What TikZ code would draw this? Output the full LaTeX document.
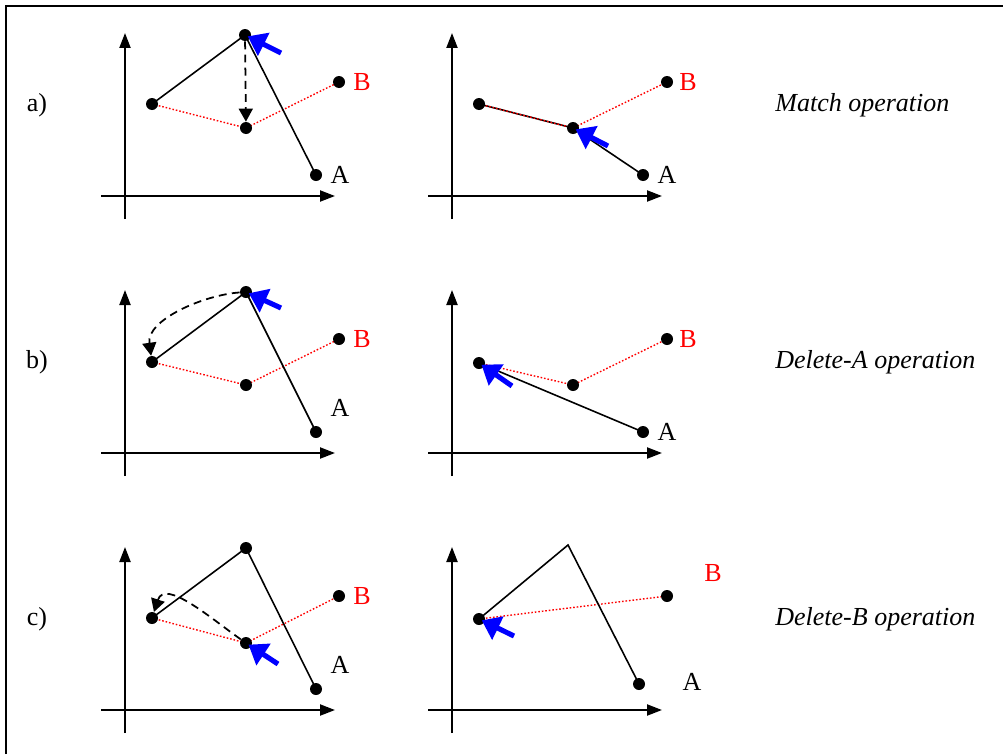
\documentclass[tikz,border=0pt]{standalone}
\usepackage{fontspec}
\setmainfont{Liberation Serif}
\usetikzlibrary{arrows.meta}
\pgfdeclarelayer{bg}
\pgfsetlayers{bg,main}
\begin{document}
\begin{tikzpicture}[x=0.02cm,y=-0.02cm,
 dot/.style={circle,fill=black,inner sep=0pt,minimum size=0.24cm},
 axis/.style={line width=1.2pt,-{Triangle[length=0.3cm,width=0.22cm]}},
 solidline/.style={line width=0.9pt},
 redline/.style={red,line width=0.8pt,dash pattern=on 0.9pt off 1.1pt},
 dasharrow/.style={line width=1pt,dash pattern=on 4.5pt off 3pt,-{Triangle[length=0.26cm,width=0.28cm]}},
 bluearrow/.style={blue,line width=2.9pt,shorten >=0.06cm,-{Triangle[length=0.36cm,width=0.5cm]}},
 lbl/.style={font=\fontsize{14.8}{17}\selectfont},
 redlbl/.style={lbl,text=red},
 oplbl/.style={font=\fontsize{14.8}{17}\selectfont\itshape,anchor=west,inner sep=0pt}]
\useasboundingbox (0,0) rectangle (1003,754);
\draw[line width=1.2pt] (6,754) -- (6,6) -- (1003,6);

% ---------- row a ----------
\node[lbl] (rla) at (37,105) {a)};
\node[oplbl] (opa) at (775,105) {Match operation};
% left
\coordinate (aLy0) at (125,219); \coordinate (aLy1) at (125,33);
\coordinate (aLx0) at (101,196); \coordinate (aLx1) at (335,196);
\draw[axis] (aLy0) -- (aLy1);
\draw[axis] (aLx0) -- (aLx1);
\node[dot] (aLp) at (152,104) {};
\node[dot] (aLt) at (245,35) {};
\node[dot] (aLm) at (246,128) {};
\node[dot] (aLB) at (339,82) {};
\node[dot] (aLA) at (316,175) {};
\node[redlbl] (aLBl) at (362,82) {B};
\node[lbl] (aLAl) at (340,175) {A};
\begin{pgfonlayer}{bg}
\draw[redline] (aLp.center) -- (aLm.center) -- (aLB.center);
\draw[solidline] (aLp.center) -- (aLt.center) -- (aLA.center);
\end{pgfonlayer}
\draw[dasharrow] (aLt) -- (aLm);
\coordinate (aLbt) at (281,53);
\draw[bluearrow] (aLbt) -- (aLt.center);
% right
\coordinate (aRy0) at (452,219); \coordinate (aRy1) at (452,33);
\coordinate (aRx0) at (428,196); \coordinate (aRx1) at (662,196);
\draw[axis] (aRy0) -- (aRy1);
\draw[axis] (aRx0) -- (aRx1);
\node[dot] (aRp) at (479,104) {};
\node[dot] (aRm) at (573,128) {};
\node[dot] (aRB) at (667,82) {};
\node[dot] (aRA) at (643,175) {};
\node[redlbl] (aRBl) at (688,82) {B};
\node[lbl] (aRAl) at (667,175) {A};
\begin{pgfonlayer}{bg}
\draw[solidline] (aRp.center) -- (aRm.center) -- (aRA.center);
\draw[redline] (aRp.center) -- (aRm.center) -- (aRB.center);
\end{pgfonlayer}
\coordinate (aRbt) at (608,146);
\draw[bluearrow] (aRbt) -- (aRm.center);

% ---------- row b ----------
\node[lbl] (rlb) at (37,362) {b)};
\node[oplbl] (opb) at (775,362) {Delete-A operation};
% left
\coordinate (bLy0) at (125,476); \coordinate (bLy1) at (125,290);
\coordinate (bLx0) at (101,453); \coordinate (bLx1) at (335,453);
\draw[axis] (bLy0) -- (bLy1);
\draw[axis] (bLx0) -- (bLx1);
\node[dot] (bLp) at (152,362) {};
\node[dot] (bLt) at (246,292) {};
\node[dot] (bLm) at (246,385) {};
\node[dot] (bLB) at (339,339) {};
\node[dot] (bLA) at (316,432) {};
\node[redlbl] (bLBl) at (362,339) {B};
\node[lbl] (bLAl) at (340,408) {A};
\begin{pgfonlayer}{bg}
\draw[redline] (bLp.center) -- (bLm.center) -- (bLB.center);
\draw[solidline] (bLp.center) -- (bLt.center) -- (bLA.center);
\end{pgfonlayer}
\draw[dasharrow] (bLt) to[out=184,in=98,looseness=0.85] (bLp);
\coordinate (bLbt) at (281,308);
\draw[bluearrow] (bLbt) -- (bLt.center);
% right
\coordinate (bRy0) at (452,476); \coordinate (bRy1) at (452,290);
\coordinate (bRx0) at (428,453); \coordinate (bRx1) at (662,453);
\draw[axis] (bRy0) -- (bRy1);
\draw[axis] (bRx0) -- (bRx1);
\node[dot] (bRp) at (479,363) {};
\node[dot] (bRm) at (573,385) {};
\node[dot] (bRB) at (667,339) {};
\node[dot] (bRA) at (643,432) {};
\node[redlbl] (bRBl) at (688,339) {B};
\node[lbl] (bRAl) at (667,432) {A};
\begin{pgfonlayer}{bg}
\draw[redline] (bRp.center) -- (bRm.center) -- (bRB.center);
\draw[solidline] (bRp.center) -- (bRA.center);
\end{pgfonlayer}
\coordinate (bRbt) at (512,386);
\draw[bluearrow] (bRbt) -- (bRp.center);

% ---------- row c ----------
\node[lbl] (rlc) at (37,619) {c)};
\node[oplbl] (opc) at (775,619) {Delete-B operation};
% left
\coordinate (cLy0) at (125,733); \coordinate (cLy1) at (125,547);
\coordinate (cLx0) at (101,710); \coordinate (cLx1) at (335,710);
\draw[axis] (cLy0) -- (cLy1);
\draw[axis] (cLx0) -- (cLx1);
\node[dot] (cLp) at (152,618) {};
\node[dot] (cLt) at (246,548) {};
\node[dot] (cLm) at (246,643) {};
\node[dot] (cLB) at (339,596) {};
\node[dot] (cLA) at (316,689) {};
\node[redlbl] (cLBl) at (362,596) {B};
\node[lbl] (cLAl) at (340,665) {A};
\begin{pgfonlayer}{bg}
\draw[redline] (cLp.center) -- (cLm.center) -- (cLB.center);
\draw[solidline] (cLp.center) -- (cLt.center) -- (cLA.center);
\end{pgfonlayer}
\draw[dasharrow] (cLm) to[out=145,in=72] (cLp);
\coordinate (cLbt) at (278,664);
\draw[bluearrow] (cLbt) -- (cLm.center);
% right
\coordinate (cRy0) at (452,733); \coordinate (cRy1) at (452,547);
\coordinate (cRx0) at (428,710); \coordinate (cRx1) at (662,710);
\draw[axis] (cRy0) -- (cRy1);
\draw[axis] (cRx0) -- (cRx1);
\node[dot] (cRp) at (479,619) {};
\coordinate (cRt) at (568,545);
\node[dot] (cRB) at (667,596) {};
\node[dot] (cRA) at (639,684) {};
\node[redlbl] (cRBl) at (713,573) {B};
\node[lbl] (cRAl) at (692,682) {A};
\begin{pgfonlayer}{bg}
\draw[redline] (cRp.center) -- (cRB.center);
\draw[solidline] (cRp.center) -- (cRt) -- (cRA.center);
\end{pgfonlayer}
\coordinate (cRbt) at (514,636);
\draw[bluearrow] (cRbt) -- (cRp.center);
\end{tikzpicture}
\end{document}
